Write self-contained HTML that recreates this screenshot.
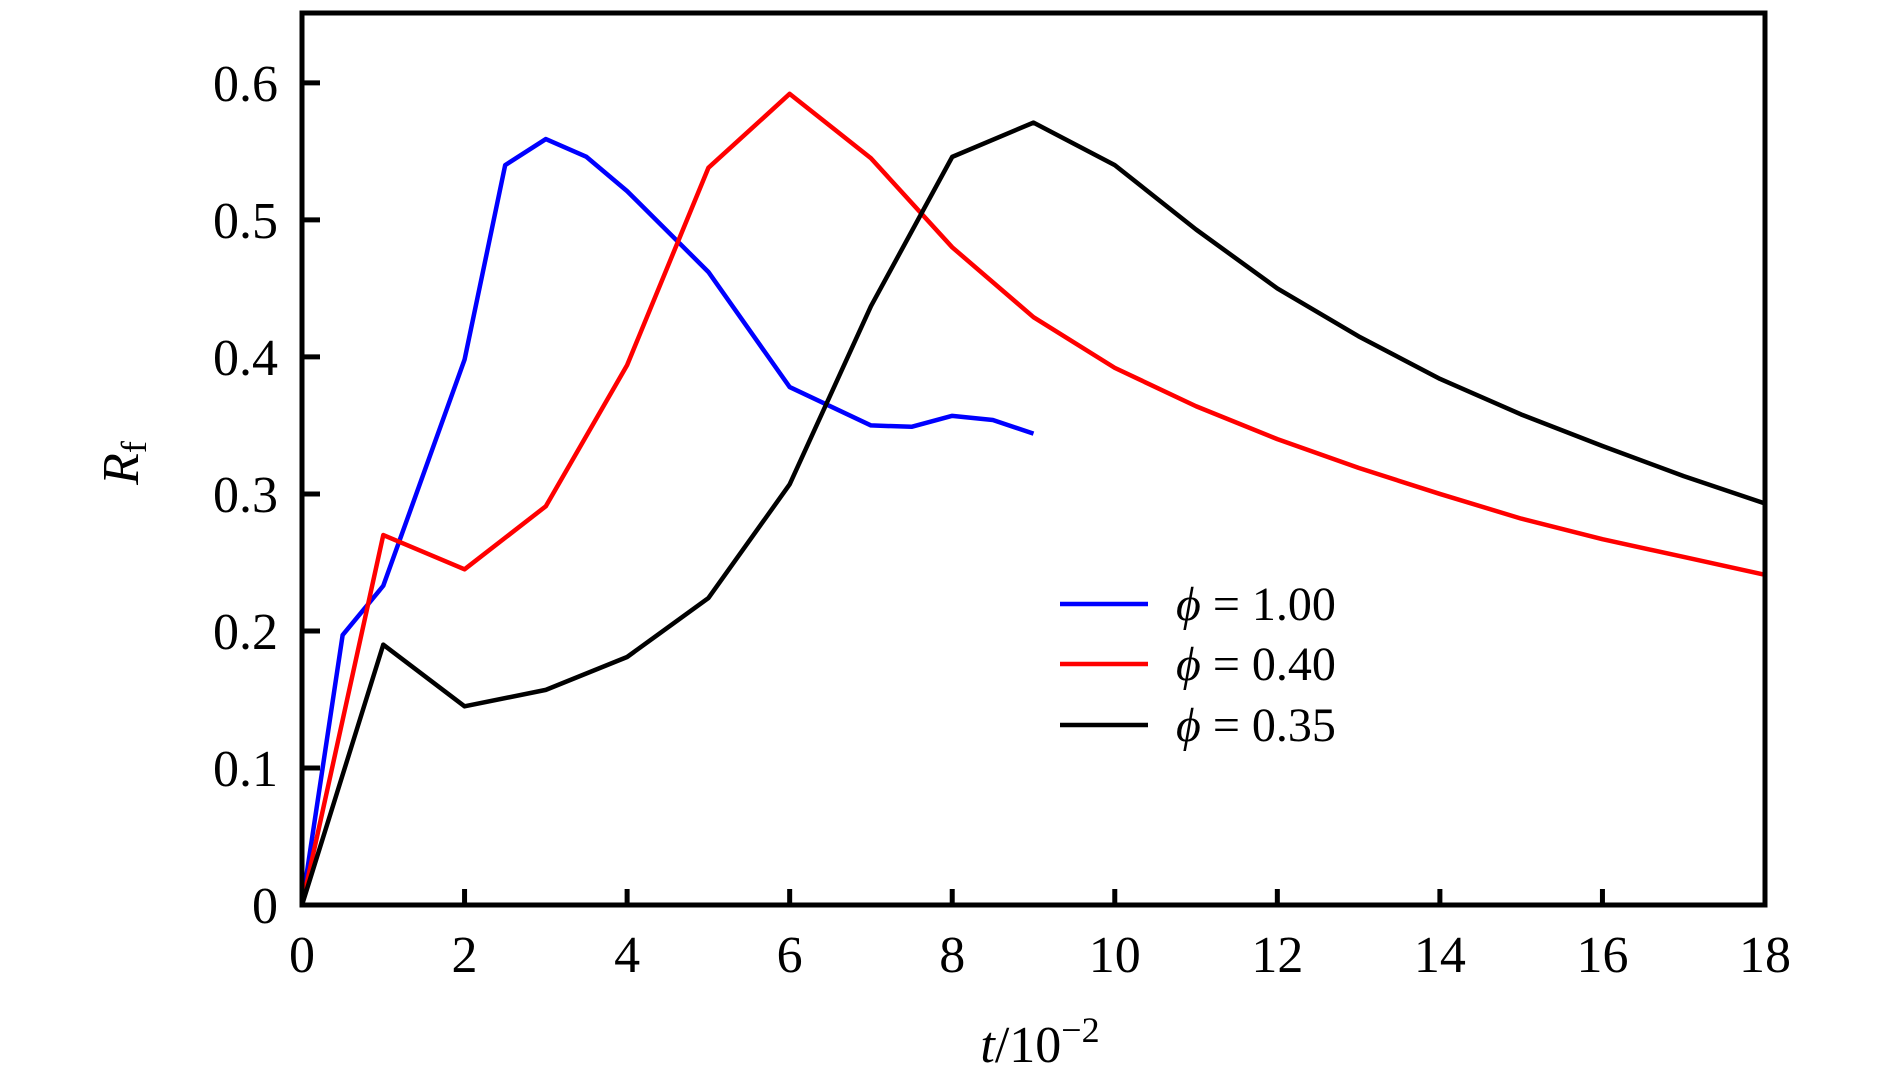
<!DOCTYPE html>
<html><head><meta charset="utf-8"><style>
body{margin:0;background:#fff}
svg text{font-family:"Liberation Serif",serif;fill:#000}
</style></head><body>
<svg width="1890" height="1087" viewBox="0 0 1890 1087">
<g id="plot"></g>
<g id="axes"></g>
<g>
<line x1="1060" y1="604" x2="1148" y2="604" stroke="#00f" stroke-width="4.5"/>
<text x="1176" y="620" font-size="48"><tspan font-style="italic">ϕ</tspan> = 1.00</text>
<line x1="1060" y1="664" x2="1148" y2="664" stroke="#f00" stroke-width="4.5"/>
<text x="1176" y="680" font-size="48"><tspan font-style="italic">ϕ</tspan> = 0.40</text>
<line x1="1060" y1="725" x2="1148" y2="725" stroke="#000" stroke-width="4.5"/>
<text x="1176" y="741" font-size="48"><tspan font-style="italic">ϕ</tspan> = 0.35</text>
</g>
<text x="1040" y="1062" font-size="52" text-anchor="middle"><tspan font-style="italic">t</tspan>/10<tspan font-size="36" dy="-20">−2</tspan></text>
<text transform="translate(138,463) rotate(-90)" font-size="52" text-anchor="middle"><tspan font-style="italic">R</tspan><tspan font-size="36" dy="8">f</tspan></text>
</svg>
<script>
const blueT=[0,0.5,1,2,2.5,3,3.5,4,5,6,7,7.5,8,8.5,9];
const blueR=[0,0.197,0.233,0.398,0.54,0.559,0.546,0.521,0.462,0.378,0.350,0.349,0.357,0.354,0.344];
const redT=[0,1,2,3,4,5,6,7,8,9,10,11,12,13,14,15,16,17,18];
const redR=[0,0.270,0.245,0.291,0.394,0.538,0.592,0.545,0.48,0.429,0.392,0.364,0.34,0.319,0.3,0.282,0.267,0.254,0.241];
const blackT=[0,1,2,3,4,5,6,7,8,9,10,11,12,13,14,15,16,17,18];
const blackR=[0,0.190,0.145,0.157,0.181,0.224,0.307,0.437,0.546,0.571,0.540,0.493,0.450,0.415,0.384,0.358,0.335,0.313,0.293];
const xTicks=[0,2,4,6,8,10,12,14,16,18];
const yTicks=[0,0.1,0.2,0.3,0.4,0.5,0.6];
const yTickLabels=["0","0.1","0.2","0.3","0.4","0.5","0.6"];
const X0=302,X1=1765,Y0=905,Y1=13,XMAX=18,YMAX=0.651;
const sx=v=>X0+(X1-X0)*v/XMAX, sy=v=>Y0-(Y0-Y1)*v/YMAX;
const NS="http://www.w3.org/2000/svg";
const plot=document.getElementById('plot'), axes=document.getElementById('axes');
function series(ts,rs,color,name){
  const p=document.createElementNS(NS,'polyline');
  p.setAttribute('points',ts.map((t,i)=>sx(t)+','+sy(rs[i])).join(' '));
  p.setAttribute('fill','none');p.setAttribute('stroke',color);p.setAttribute('stroke-width','4.5');
  p.setAttribute('stroke-linejoin','round');
  
  
  plot.appendChild(p);
}
series(blueT,blueR,'#00f','series-phi-1');
series(redT,redR,'#f00','series-phi-040');
series(blackT,blackR,'#000','series-phi-035');
const frame=document.createElementNS(NS,'rect');
frame.setAttribute('x',X0);frame.setAttribute('y',Y1);frame.setAttribute('width',X1-X0);frame.setAttribute('height',Y0-Y1);
frame.setAttribute('fill','none');frame.setAttribute('stroke','#000');frame.setAttribute('stroke-width','5');


axes.appendChild(frame);
xTicks.forEach(v=>{
  const l=document.createElementNS(NS,'line');
  l.setAttribute('x1',sx(v));l.setAttribute('x2',sx(v));l.setAttribute('y1',Y0);l.setAttribute('y2',Y0-16);
  l.setAttribute('stroke','#000');l.setAttribute('stroke-width','5');
  
  
  axes.appendChild(l);
  const t=document.createElementNS(NS,'text');
  t.setAttribute('x',sx(v));t.setAttribute('y',972);t.setAttribute('font-size','52');t.setAttribute('text-anchor','middle');
  t.textContent=v;
  
  
  axes.appendChild(t);
});
yTicks.forEach((v,i)=>{
  const l=document.createElementNS(NS,'line');
  l.setAttribute('x1',X0);l.setAttribute('x2',X0+18);l.setAttribute('y1',sy(v));l.setAttribute('y2',sy(v));
  l.setAttribute('stroke','#000');l.setAttribute('stroke-width','5');
  
  
  axes.appendChild(l);
  const t=document.createElementNS(NS,'text');
  t.setAttribute('x',278);t.setAttribute('y',sy(v)+18);t.setAttribute('font-size','52');t.setAttribute('text-anchor','end');
  t.textContent=yTickLabels[i];
  
  
  axes.appendChild(t);
});
</script>
</body></html>
